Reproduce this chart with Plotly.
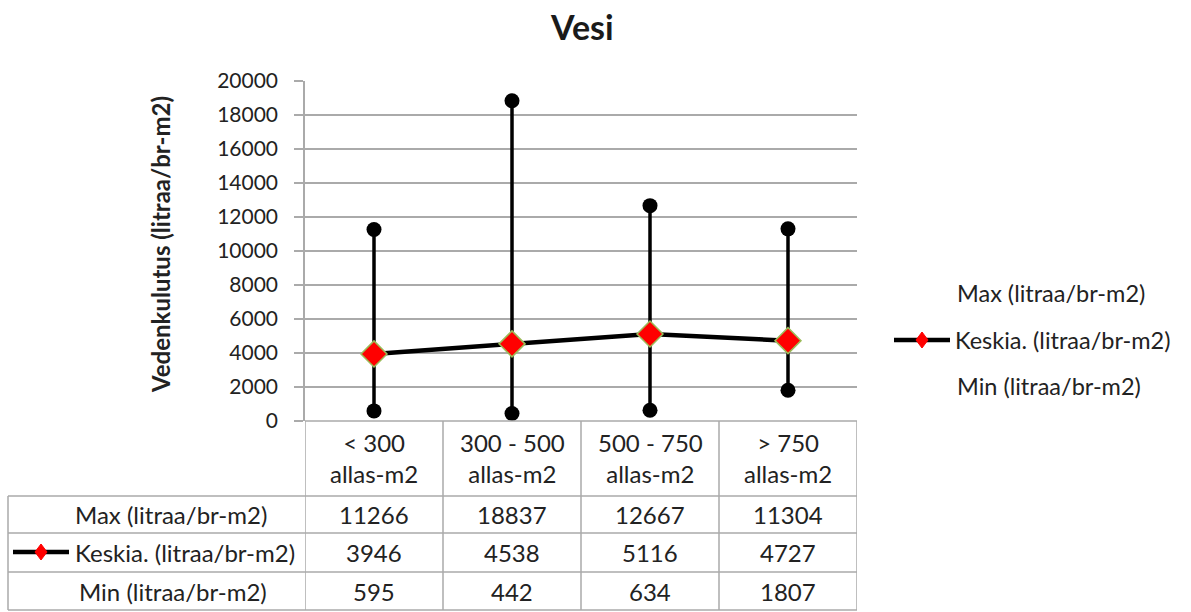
import plotly.graph_objects as go

categories = ["< 300<br>allas-m2", "300 - 500<br>allas-m2", "500 - 750<br>allas-m2", "> 750<br>allas-m2"]
max_vals = [11266, 18837, 12667, 11304]
mean_vals = [3946, 4538, 5116, 4727]
min_vals = [595, 442, 634, 1807]
series_names = ["Max (litraa/br-m2)", "Keskia. (litraa/br-m2)", "Min (litraa/br-m2)"]
y_ticks = list(range(0, 20001, 2000))

W, H = 1191, 612
FONT = "Lato"
GRID = "#aaaaaa"
TXT = "#222222"

def px(x):
    return x / W

def py(y):
    return 1 - y / H

x_left, x_right = 305, 857
y_top, y_bottom = 81, 421

xs = list(range(len(categories)))

fig = go.Figure()

# high-low lines
for i in xs:
    fig.add_trace(go.Scatter(x=[i, i], y=[min_vals[i], max_vals[i]], mode="lines",
                             line=dict(color="black", width=3.5), showlegend=False, hoverinfo="skip"))
# max / min markers
fig.add_trace(go.Scatter(x=xs, y=max_vals, mode="markers", name=series_names[0],
                         marker=dict(color="black", size=15, symbol="circle"), showlegend=False))
fig.add_trace(go.Scatter(x=xs, y=min_vals, mode="markers", name=series_names[2],
                         marker=dict(color="black", size=15, symbol="circle"), showlegend=False))
# mean line
fig.add_trace(go.Scatter(x=xs, y=mean_vals, mode="lines+markers", name=series_names[1],
                         line=dict(color="black", width=4.5),
                         marker=dict(color="#ff0000", size=20, symbol="diamond",
                                     line=dict(color="#9bbb59", width=1.5)),
                         showlegend=False))

shapes = []
annotations = []

# table geometry
row_lines = [421, 496, 533, 572, 610]
row_centers = [514, 552, 591]
tbl_left = 8
line_style = dict(color=GRID, width=1.5)

shapes.append(dict(type="line", xref="paper", yref="paper", x0=px(x_left), x1=px(x_right),
                   y0=py(row_lines[0]), y1=py(row_lines[0]), line=line_style))
for yl in row_lines[1:]:
    shapes.append(dict(type="line", xref="paper", yref="paper", x0=px(tbl_left), x1=px(x_right),
                       y0=py(yl), y1=py(yl), line=line_style))
shapes.append(dict(type="line", xref="paper", yref="paper", x0=px(tbl_left), x1=px(tbl_left),
                   y0=py(row_lines[1]), y1=py(row_lines[-1]), line=line_style))
for b in [i - 0.5 for i in xs] + [len(xs) - 0.5]:
    shapes.append(dict(type="line", xref="x", yref="paper", x0=b, x1=b,
                       y0=py(row_lines[0]), y1=py(row_lines[-1]), line=line_style))

TS = 24
for i, c in enumerate(categories):
    annotations.append(dict(x=i, y=py(458), xref="x", yref="paper", text=c, showarrow=False,
                            font=dict(family=FONT, size=TS, color=TXT), align="center",
                            xanchor="center", yanchor="middle"))
table_rows = [max_vals, mean_vals, min_vals]
for r, (name, vals) in enumerate(zip(series_names, table_rows)):
    lx = 269 if r != 1 else 297
    annotations.append(dict(x=px(lx), y=py(row_centers[r]), xref="paper", yref="paper", text=name,
                            showarrow=False, xanchor="right", yanchor="middle",
                            font=dict(family=FONT, size=TS, color=TXT)))
    for i, v in enumerate(vals):
        annotations.append(dict(x=i, y=py(row_centers[r]), xref="x", yref="paper", text=str(v),
                                showarrow=False, xanchor="center", yanchor="middle",
                                font=dict(family=FONT, size=TS, color=TXT)))

def legend_key(xa, xb, yc):
    shapes.append(dict(type="line", xref="paper", yref="paper", x0=px(xa), x1=px(xb),
                       y0=py(yc), y1=py(yc), line=dict(color="black", width=4.5)))
    xm = (xa + xb) / 2
    d = 6
    path = f"M {px(xm - d)} {py(yc)} L {px(xm)} {py(yc - d - 2)} L {px(xm + d)} {py(yc)} L {px(xm)} {py(yc + d + 2)} Z"
    shapes.append(dict(type="path", xref="paper", yref="paper", path=path,
                       fillcolor="#ff0000", line=dict(color="#ff0000", width=1)))

legend_key(13, 69, row_centers[1])

leg_y = [293, 340, 386]
for name, yy in zip(series_names, leg_y):
    xx = 953 if name.startswith("Keskia") else 955
    annotations.append(dict(x=px(xx), y=py(yy), xref="paper", yref="paper", text=name,
                            showarrow=False, xanchor="left", yanchor="middle",
                            font=dict(family=FONT, size=TS - 0.5, color=TXT)))
legend_key(894, 950, leg_y[1])

annotations.append(dict(x=px(160), y=py(245), xref="paper", yref="paper",
                        text="<b>Vedenkulutus (litraa/br-m2)</b>", textangle=-90, showarrow=False,
                        xanchor="center", yanchor="middle",
                        font=dict(family=FONT, size=24, color=TXT)))
annotations.append(dict(x=px(582), y=py(27), xref="paper", yref="paper", text="<b>Vesi</b>",
                        showarrow=False, xanchor="center", yanchor="middle",
                        font=dict(family=FONT, size=34, color="#1a1a1a")))

fig.update_layout(
    width=W, height=H,
    margin=dict(l=0, r=0, t=0, b=0, autoexpand=False),
    paper_bgcolor="white", plot_bgcolor="white",
    showlegend=False,
    shapes=shapes, annotations=annotations,
    xaxis=dict(domain=[px(x_left), px(x_right)], range=[-0.5, len(xs) - 0.5], automargin=False,
               showgrid=False, zeroline=False, showticklabels=False, showline=False, ticks=""),
    yaxis=dict(domain=[py(y_bottom), py(y_top)], range=[0, 20000], tickvals=y_ticks,
               tickformat="d", automargin=False,
               showgrid=True, gridcolor=GRID, gridwidth=1.5, zeroline=False,
               showline=True, linecolor=GRID, linewidth=1.5, ticks="outside", ticklen=9,
               tickcolor=GRID, tickwidth=1.5, ticklabelstandoff=12,
               tickfont=dict(family=FONT, size=21, color=TXT)),
)

fig.write_html("out.html")
